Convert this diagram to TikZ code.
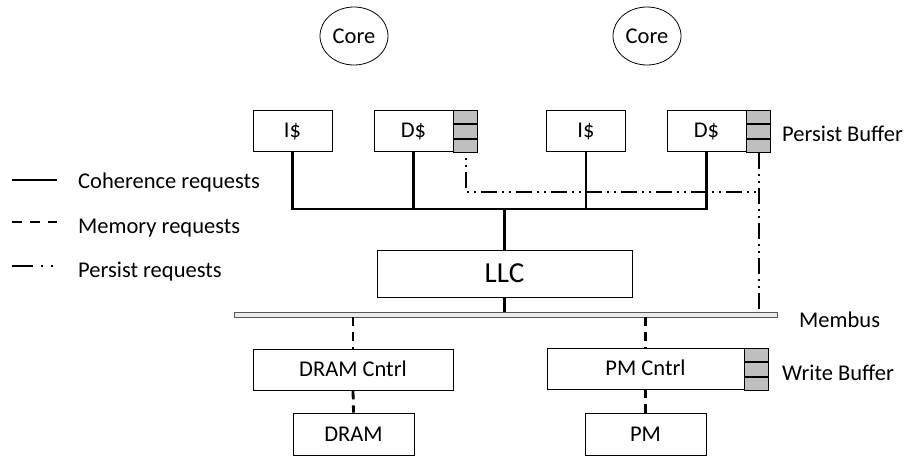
\documentclass[tikz,border=0pt]{standalone}
\usepackage{fontspec}
\setmainfont{Carlito}
\usetikzlibrary{positioning,shapes.geometric}
\tikzset{
  box/.style={draw,rectangle,inner sep=0pt,line width=0.8pt,text height=14.5pt,text depth=0pt},
  cell/.style={draw,rectangle,inner sep=0pt,line width=0.8pt,fill=black!25,minimum width=24pt,minimum height=13.67pt},
  core/.style={draw,ellipse,inner sep=0pt,line width=0.8pt,minimum width=68pt,minimum height=58pt},
  bus/.style={draw=black!65,fill=black!8,line width=0.8pt,inner sep=0pt,minimum width=543pt,minimum height=5pt},
  lbl/.style={inner sep=0pt},
  coh/.style={line width=2.4pt},
  mem/.style={line width=2.8pt,dash pattern=on 9pt off 6pt},
  pers/.style={line width=2.4pt,dash pattern=on 16pt off 5pt on 2pt off 5pt on 2pt off 5pt}
}
\begin{document}
\begin{tikzpicture}[x=1pt,y=-1pt,font=\fontsize{22.5}{27}\selectfont]
      \useasboundingbox (0,0) rectangle (908,466);
      % cores
      \node[core] (core1) at (354,36) {Core};
      \node[core] (core2) at (647,36) {Core};
      % caches
      \begin{scope}[every node/.style={box,minimum width=79pt,minimum height=41pt}]
        \node (i1) at (292.5,130.5) {I\$};
        \node (d1) at (413.5,130.5) {D\$};
        \node (i2) at (586,130.5) {I\$};
        \node (d2) at (706.5,130.5) {D\$};
      \end{scope}
      % persist buffers
      \node[cell,anchor=north west] (pb1a) at (d1.north east) {};
      \node[cell,below=0pt of pb1a] (pb1b) {};
      \node[cell,below=0pt of pb1b] (pb1c) {};
      \node[cell,anchor=north west] (pb2a) at (d2.north east) {};
      \node[cell,below=0pt of pb2a] (pb2b) {};
      \node[cell,below=0pt of pb2b] (pb2c) {};
      % LLC and bus
      \node[box,minimum width=255pt,minimum height=47pt,text height=18.7pt,font=\fontsize{29}{34}\selectfont] (llc) at (504.5,273.5) {LLC};
      \node[bus] (membus) at (505.5,314.5) {};
      % memory side
      \node[box,minimum width=200pt,minimum height=41pt] (dc) at (353,369.5) {DRAM Cntrl};
      \node[box,minimum width=197pt,minimum height=41pt] (pc) at (645.5,368.5) {PM Cntrl};
      \node[cell,anchor=north west] (wb1) at (pc.north east) {};
      \node[cell,below=0pt of wb1] (wb2) {};
      \node[cell,below=0pt of wb2] (wb3) {};
      \node[box,minimum width=121pt,minimum height=42pt] (dram) at (353.5,434) {DRAM};
      \node[box,minimum width=121pt,minimum height=42pt] (pm) at (645.5,434) {PM};
      % labels
      \node[lbl,anchor=base west] (pbuf) at (782,141) {Persist Buffer};
      \node[lbl,anchor=base west] (mbus) at (799,327) {Membus};
      \node[lbl,anchor=base west] (wbuf) at (782,380) {Write Buffer};
      % coherence requests
      \coordinate (cj) at (llc.north |- 0,209);
      \draw[coh] (i1.south) |- (cj) -| (d2.south);
      \draw[coh] (d1.south) -- (d1.south |- cj);
      \draw[coh] (i2.south) -- (i2.south |- cj);
      \draw[coh] (cj) -- (llc.north);
      \draw[coh] (llc.south) -- (llc.south |- membus.north);
      % persist requests
      \coordinate (pj) at (pb2c.south |- 0,192);
      \draw[pers,dash phase=16pt] (pb1c.south) |- (pj);
      \draw[pers] (pb2c.south) -- (pb2c.south |- membus.north);
      % memory requests
      \draw[mem] (dc.north |- membus.south) -- (dc.north);
      \draw[mem] (dc.south) -- (dram.north);
      \draw[mem] (pc.north |- membus.south) -- (pc.north);
      \draw[mem] (pc.south) -- (pm.north);
      % legend
      \node[lbl,anchor=base west] (lcoh) at (78,188) {Coherence requests};
      \node[lbl,anchor=base west] (lmem) at (78,233) {Memory requests};
      \node[lbl,anchor=base west] (lpers) at (78,277) {Persist requests};
      \coordinate (lc1) at (12,180);
      \coordinate (lc2) at (57,180);
      \coordinate (lm1) at (12,222);
      \coordinate (lm2) at (57,222);
      \coordinate (lp1) at (12,266);
      \coordinate (lp2) at (54,266);
      \draw[coh] (lc1) -- (lc2);
      \draw[line width=2.8pt,dash pattern=on 10pt off 8pt] (lm1) -- (lm2);
      \draw[line width=2.4pt,dash pattern=on 21pt off 8pt on 2pt off 8pt on 2pt off 8pt] (lp1) -- (lp2);
\end{tikzpicture}
\end{document}
